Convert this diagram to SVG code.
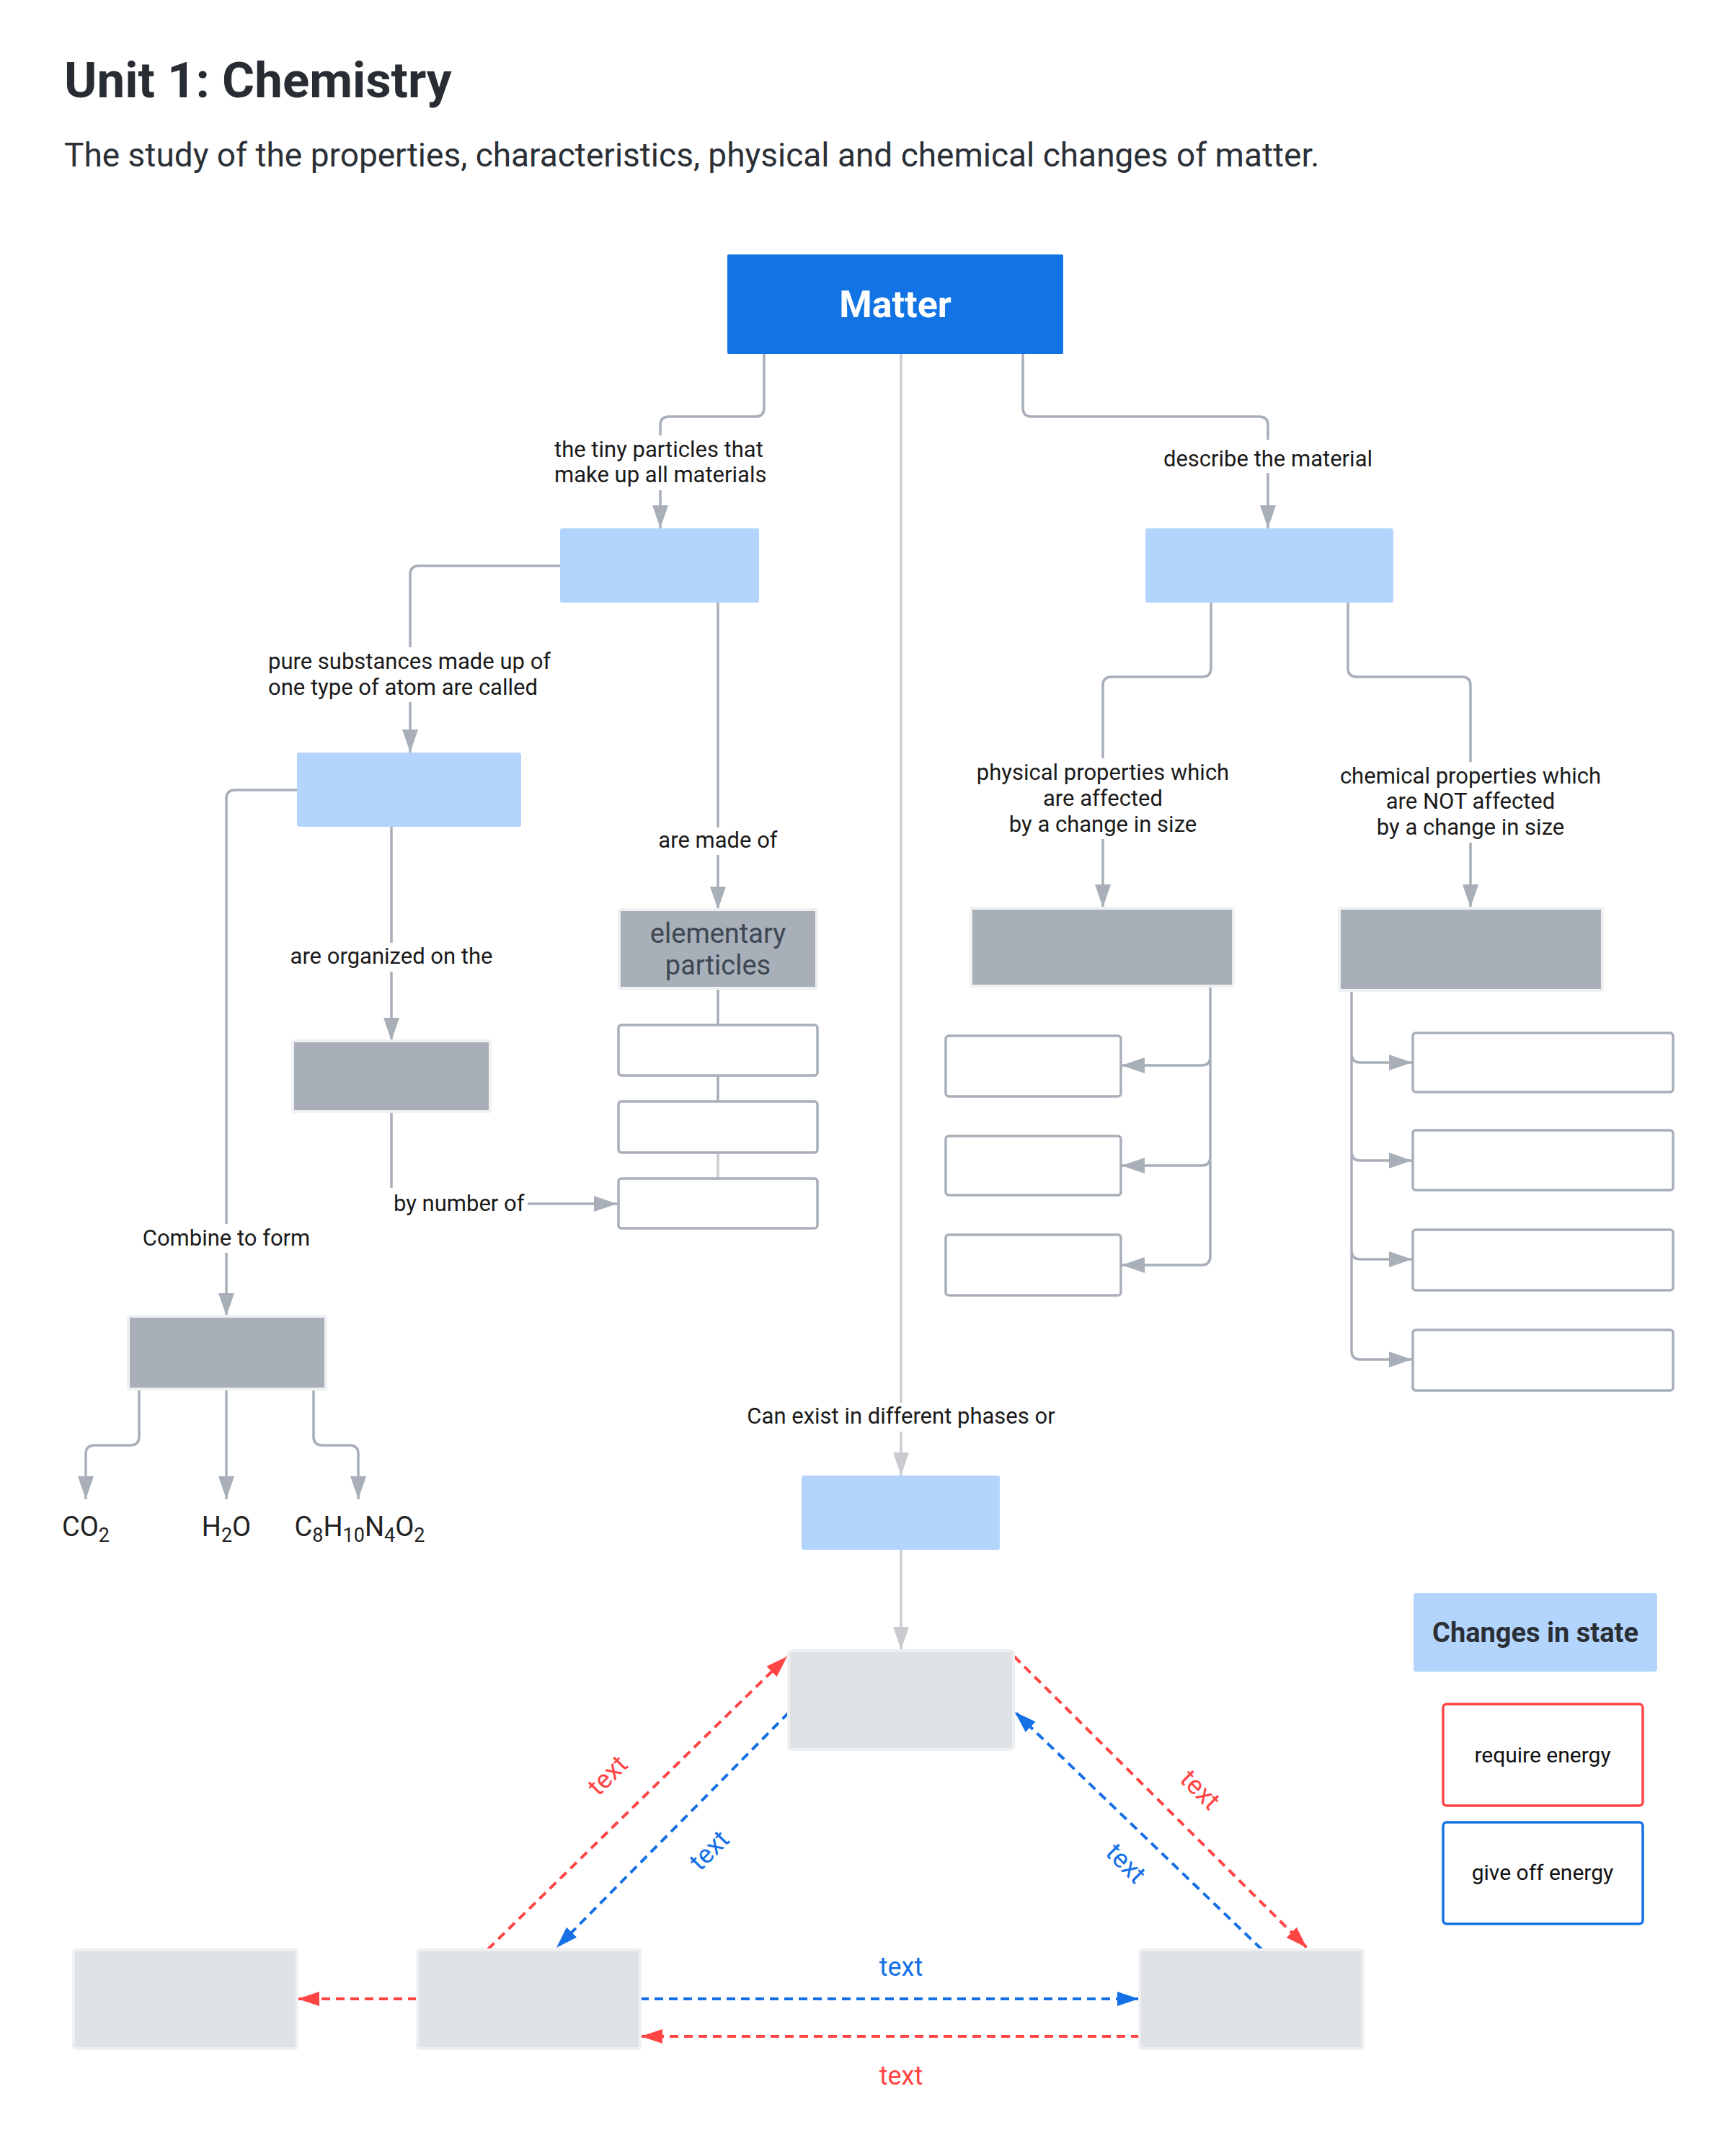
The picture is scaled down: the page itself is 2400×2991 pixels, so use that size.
<svg xmlns="http://www.w3.org/2000/svg" width="2400" height="2991" viewBox="0 0 2400 2991">
<defs>
<style>
text{font-family:Roboto,"Liberation Sans",sans-serif}
.title{font-size:69px;font-weight:700;fill:#282c33}
.sub{font-size:46px;fill:#2b2f36}
.lbl{font-size:31px;fill:#1a1a1a;text-anchor:middle}
.lbs{font-size:31px;fill:#1a1a1a;text-anchor:start}
.form{font-size:38px;fill:#222;text-anchor:middle}
.lb{fill:#b3d5fd}
.gr{fill:#a8afb8;stroke:#eff0f2;stroke-width:4}
.wb{fill:#fff;stroke:#a8afb8;stroke-width:3.5}
.st{fill:#dfe2e7;stroke:#eff0f2;stroke-width:4}
.con{fill:none;stroke:#a8afb8;stroke-width:3.5}
.conl{fill:none;stroke:#c9cbce;stroke-width:3.5}
.red{fill:none;stroke:#ff4444;stroke-width:4;stroke-dasharray:12 8}
.blue{fill:none;stroke:#1570e6;stroke-width:4;stroke-dasharray:12 8}
.tr{font-size:36px;fill:#ff4444;text-anchor:middle}
.tb{font-size:36px;fill:#1570e6;text-anchor:middle}
</style>
<marker id="ag" markerUnits="userSpaceOnUse" markerWidth="34" markerHeight="24" refX="32" refY="11" orient="auto"><path d="M0,0 L32,11 L0,22 z" fill="#a8afb8"/></marker>
<marker id="agl" markerUnits="userSpaceOnUse" markerWidth="34" markerHeight="24" refX="32" refY="11" orient="auto"><path d="M0,0 L32,11 L0,22 z" fill="#c9cbce"/></marker>
<marker id="ar" markerUnits="userSpaceOnUse" markerWidth="32" markerHeight="24" refX="30" refY="10" orient="auto"><path d="M0,0 L30,10 L0,20 z" fill="#ff4444"/></marker>
<marker id="ab" markerUnits="userSpaceOnUse" markerWidth="32" markerHeight="24" refX="30" refY="10" orient="auto"><path d="M0,0 L30,10 L0,20 z" fill="#1570e6"/></marker>
</defs>
<rect width="2400" height="2991" fill="#fff"/>
<text class="title" x="89" y="135">Unit 1: Chemistry</text>
<text class="sub" x="89" y="231">The study of the properties, characteristics, physical and chemical changes of matter.</text>

<g id="connectors">
<path class="con" d="M1060,491 V566 Q1060,578 1048,578 H928 Q916,578 916,590 V733" marker-end="url(#ag)"/>
<path class="con" d="M1419,491 V566 Q1419,578 1431,578 H1747 Q1759,578 1759,590 V733" marker-end="url(#ag)"/>
<path class="conl" d="M1250,491 V2047" marker-end="url(#agl)"/>
<path class="con" d="M778,785 H581 Q569,785 569,797 V1044" marker-end="url(#ag)"/>
<path class="con" d="M996,836 V1262" marker-end="url(#ag)"/>
<path class="con" d="M413,1096 H326 Q314,1096 314,1108 V1826" marker-end="url(#ag)"/>
<path class="con" d="M543,1147 V1444" marker-end="url(#ag)"/>
<path class="con" d="M543,1544 V1658 Q543,1670 555,1670 H856" marker-end="url(#ag)"/>
<path class="con" d="M996,1371 V1422 M996,1492 V1528"/>
<path class="conl" d="M996,1599 V1635"/>
<path class="con" d="M193,1927 V1993 Q193,2005 181,2005 H131 Q119,2005 119,2017 V2080" marker-end="url(#ag)"/>
<path class="con" d="M314,1927 V2080" marker-end="url(#ag)"/>
<path class="con" d="M435,1927 V1993 Q435,2005 447,2005 H485 Q497,2005 497,2017 V2080" marker-end="url(#ag)"/>
<path class="con" d="M1680,836 V927 Q1680,939 1668,939 H1542 Q1530,939 1530,951 V1259" marker-end="url(#ag)"/>
<path class="con" d="M1870,836 V927 Q1870,939 1882,939 H2028 Q2040,939 2040,951 V1259" marker-end="url(#ag)"/>
<path class="con" d="M1679,1368 V1466 Q1679,1478 1667,1478 H1556" marker-end="url(#ag)"/>
<path class="con" d="M1679,1470 V1605 Q1679,1617 1667,1617 H1556" marker-end="url(#ag)"/>
<path class="con" d="M1679,1610 V1743 Q1679,1755 1667,1755 H1556" marker-end="url(#ag)"/>
<path class="con" d="M1875,1374 V1462 Q1875,1474 1887,1474 H1959" marker-end="url(#ag)"/>
<path class="con" d="M1875,1466 V1598 Q1875,1610 1887,1610 H1959" marker-end="url(#ag)"/>
<path class="con" d="M1875,1602 V1735 Q1875,1747 1887,1747 H1959" marker-end="url(#ag)"/>
<path class="con" d="M1875,1740 V1874 Q1875,1886 1887,1886 H1959" marker-end="url(#ag)"/>
<path class="conl" d="M1250,2150 V2289" marker-end="url(#agl)"/>
<path class="red" d="M677,2704 L1092,2298" marker-end="url(#ar)"/>
<path class="blue" d="M1094,2376 L772,2702" marker-end="url(#ab)"/>
<path class="red" d="M1407,2298 L1813,2702" marker-end="url(#ar)"/>
<path class="blue" d="M1750,2704 L1408,2375" marker-end="url(#ab)"/>
<path class="red" d="M578,2773 H413" marker-end="url(#ar)"/>
<path class="blue" d="M888,2773 H1580" marker-end="url(#ab)"/>
<path class="red" d="M1581,2825 H889" marker-end="url(#ar)"/>
</g>

<g id="labels">
<rect x="756" y="604" width="320" height="76" fill="#fff"/>
<text class="lbs" x="769" y="634">the tiny particles that</text>
<text class="lbs" x="769" y="669">make up all materials</text>
<rect x="1596" y="610" width="326" height="46" fill="#fff"/>
<text class="lbl" x="1759" y="647">describe the material</text>
<rect x="360" y="898" width="418" height="76" fill="#fff"/>
<text class="lbs" x="372" y="928">pure substances made up of</text>
<text class="lbs" x="372" y="964">one type of atom are called</text>
<rect x="906" y="1148" width="180" height="38" fill="#fff"/>
<text class="lbl" x="996" y="1176">are made of</text>
<rect x="394" y="1308" width="298" height="40" fill="#fff"/>
<text class="lbl" x="543" y="1337">are organized on the</text>
<rect x="540" y="1648" width="192" height="42" fill="#fff"/>
<text class="lbs" x="546" y="1680">by number of</text>
<rect x="192" y="1698" width="244" height="40" fill="#fff"/>
<text class="lbl" x="314" y="1728">Combine to form</text>
<rect x="1024" y="1946" width="452" height="40" fill="#fff"/>
<text class="lbl" x="1250" y="1975">Can exist in different phases or</text>
<rect x="1344" y="1052" width="372" height="112" fill="#fff"/>
<text class="lbl" x="1530" y="1082">physical properties which</text>
<text class="lbl" x="1530" y="1118">are affected</text>
<text class="lbl" x="1530" y="1154">by a change in size</text>
<rect x="1849" y="1057" width="382" height="112" fill="#fff"/>
<text class="lbl" x="2040" y="1087">chemical properties which</text>
<text class="lbl" x="2040" y="1122">are NOT affected</text>
<text class="lbl" x="2040" y="1158">by a change in size</text>
<text class="tr" transform="translate(843,2463) rotate(-45)" y="12">text</text>
<text class="tb" transform="translate(984,2567) rotate(-45)" y="12">text</text>
<text class="tr" transform="translate(1665,2483) rotate(45)" y="12">text</text>
<text class="tb" transform="translate(1562,2585) rotate(45)" y="12">text</text>
<text class="tb" x="1250" y="2741">text</text>
<text class="tr" x="1250" y="2892">text</text>
</g>

<g id="matter"><rect x="1009" y="353" width="466" height="138" rx="2" fill="#1273e4"/><text x="1242" y="440" font-size="52" font-weight="700" fill="#fff" text-anchor="middle">Matter</text></g>
<g id="atoms"><rect class="lb" x="777" y="733" width="276" height="103" rx="3"/></g>
<g id="properties"><rect class="lb" x="1589" y="733" width="344" height="103" rx="3"/></g>
<g id="elements"><rect class="lb" x="412" y="1044" width="311" height="103" rx="3"/></g>
<g id="periodic-table"><rect class="gr" x="406" y="1444" width="274" height="98" rx="2"/></g>
<g id="elementary-particles"><rect class="gr" x="859" y="1262" width="274" height="109" rx="2"/><text x="996" y="1308" font-size="38" fill="#3d4753" text-anchor="middle">elementary</text><text x="996" y="1352" font-size="38" fill="#3d4753" text-anchor="middle">particles</text></g>
<g id="particle-1"><rect class="wb" x="858" y="1422" width="276" height="70" rx="4"/></g>
<g id="particle-2"><rect class="wb" x="858" y="1528" width="276" height="71" rx="4"/></g>
<g id="particle-3"><rect class="wb" x="858" y="1635" width="276" height="69" rx="4"/></g>
<g id="compounds"><rect class="gr" x="178" y="1826" width="274" height="101" rx="2"/></g>
<g id="co2"><text class="form" x="119" y="2131">CO<tspan font-size="27" dy="8">2</tspan></text></g>
<g id="h2o"><text class="form" x="314" y="2131">H<tspan font-size="27" dy="8">2</tspan><tspan dy="-8">O</tspan></text></g>
<g id="caffeine"><text class="form" x="499" y="2131">C<tspan font-size="27" dy="8">8</tspan><tspan dy="-8">H</tspan><tspan font-size="27" dy="8">10</tspan><tspan dy="-8">N</tspan><tspan font-size="27" dy="8">4</tspan><tspan dy="-8">O</tspan><tspan font-size="27" dy="8">2</tspan></text></g>
<g id="physical"><rect class="gr" x="1347" y="1260" width="364" height="108" rx="2"/></g>
<g id="physical-1"><rect class="wb" x="1312" y="1437" width="243" height="84" rx="4"/></g>
<g id="physical-2"><rect class="wb" x="1312" y="1576" width="243" height="82" rx="4"/></g>
<g id="physical-3"><rect class="wb" x="1312" y="1713" width="243" height="84" rx="4"/></g>
<g id="chemical"><rect class="gr" x="1858" y="1260" width="365" height="114" rx="2"/></g>
<g id="chemical-1"><rect class="wb" x="1960" y="1433" width="361" height="82" rx="4"/></g>
<g id="chemical-2"><rect class="wb" x="1960" y="1568" width="361" height="83" rx="4"/></g>
<g id="chemical-3"><rect class="wb" x="1960" y="1706" width="361" height="84" rx="4"/></g>
<g id="chemical-4"><rect class="wb" x="1960" y="1845" width="361" height="84" rx="4"/></g>
<g id="phases"><rect class="lb" x="1112" y="2047" width="275" height="103" rx="3"/></g>
<g id="state-top"><rect class="st" x="1094" y="2290" width="312" height="137" rx="3"/></g>
<g id="state-left"><rect class="st" x="102" y="2705" width="310" height="137" rx="3"/></g>
<g id="state-middle"><rect class="st" x="579" y="2705" width="309" height="137" rx="3"/></g>
<g id="state-right"><rect class="st" x="1581" y="2705" width="310" height="137" rx="3"/></g>
<g id="legend-title"><rect class="lb" x="1961" y="2210" width="338" height="109" rx="4"/><text x="2130" y="2278" font-size="38" font-weight="700" fill="#2a2e35" text-anchor="middle">Changes in state</text></g>
<g id="legend-require"><rect x="2002" y="2364" width="277" height="141" rx="5" fill="#fff" stroke="#ff4444" stroke-width="3.5"/><text x="2140" y="2445" font-size="30" fill="#111" text-anchor="middle">require energy</text></g>
<g id="legend-give"><rect x="2002" y="2528" width="277" height="141" rx="5" fill="#fff" stroke="#1570e6" stroke-width="3.5"/><text x="2140" y="2608" font-size="30" fill="#111" text-anchor="middle">give off energy</text></g>
</svg>
